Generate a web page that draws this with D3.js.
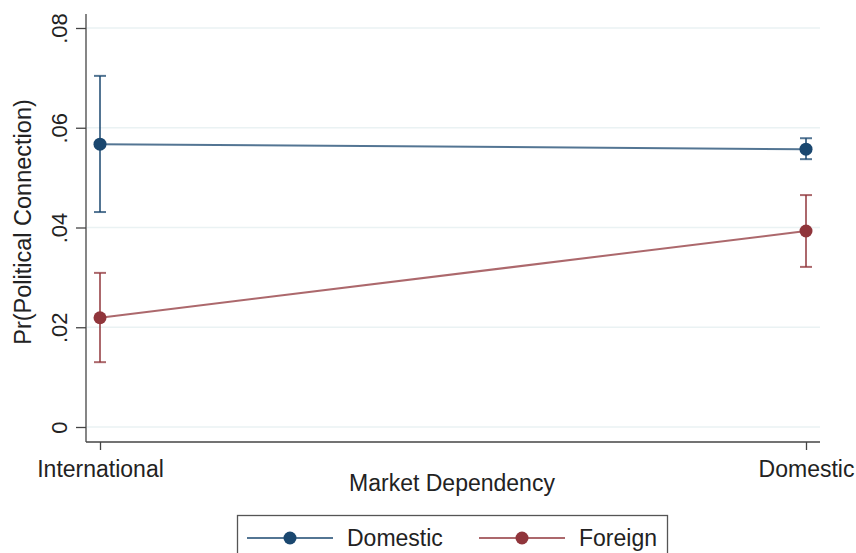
<!DOCTYPE html>
<html>
<head>
<meta charset="utf-8">
<script src="https://cdn.jsdelivr.net/npm/d3@7"></script>
<style>
  body { margin: 0; background: #fff; }
  svg { display: block; font-family: "Liberation Sans", Arial, sans-serif; }
</style>
</head>
<body>
<svg id="chart" width="856" height="553"></svg>
<script>
// Market dependency categories on the x axis
const categories = ["International", "Domestic"];
// Predicted probabilities with 95% confidence bounds, by firm ownership
const seriesNames = ["Domestic", "Foreign"];
const domesticEst = [0.0567, 0.0557];
const domesticLo  = [0.0431, 0.0537];
const domesticHi  = [0.0704, 0.0579];
const foreignEst  = [0.0219, 0.0393];
const foreignLo   = [0.0130, 0.0321];
const foreignHi   = [0.0309, 0.0465];
const yTicks = [0, 0.02, 0.04, 0.06, 0.08];
const yTickLabels = ["0", ".02", ".04", ".06", ".08"];
const colors = ["#1a476f", "#90353b"];

const series = [
  { name: seriesNames[0], est: domesticEst, lo: domesticLo, hi: domesticHi, color: colors[0] },
  { name: seriesNames[1], est: foreignEst, lo: foreignLo, hi: foreignHi, color: colors[1] }
];

const svg = d3.select("#chart");
const plotLeft = 86, plotRight = 820, plotTop = 14, plotBottom = 442;
const fontSize = 23;

const x = d3.scalePoint().domain(categories).range([100, 806]);
const y = d3.scaleLinear().domain([0, 0.08]).range([427, 28]);

// horizontal grid lines
svg.append("g").selectAll("line").data(yTicks).join("line")
  .attr("x1", plotLeft + 1).attr("x2", plotRight)
  .attr("y1", d => y(d)).attr("y2", d => y(d))
  .attr("stroke", "#eaf2f3").attr("stroke-width", 1.5);

// y axis
const yAxis = d3.axisLeft(y).tickValues(yTicks)
  .tickFormat((d, i) => yTickLabels[i]).tickSize(10).tickSizeOuter(0);
const gy = svg.append("g").attr("transform", `translate(${plotLeft},0)`).call(yAxis);
gy.attr("font-size", null).attr("font-family", null);
gy.select(".domain").attr("d", `M0,${plotTop}V${plotBottom}`).attr("stroke", "#444").attr("stroke-width", 1.3);
gy.selectAll(".tick line").attr("stroke", "#444").attr("stroke-width", 1.3);
gy.selectAll(".tick text")
  .attr("font-size", fontSize - 1).attr("fill", "#222")
  .attr("x", 0).attr("dy", 0)
  .attr("text-anchor", "middle")
  .attr("transform", "translate(-19,0) rotate(-90)");

// x axis
const xAxis = d3.axisBottom(x).tickSize(8).tickSizeOuter(0);
const gx = svg.append("g").attr("transform", `translate(0,${plotBottom})`).call(xAxis);
gx.attr("font-size", null).attr("font-family", null);
gx.selectAll(".tick text").attr("font-size", fontSize).attr("fill", "#222").attr("y", 35).attr("dy", 0);
gx.select(".domain").attr("d", `M${plotLeft},0H${plotRight}`).attr("stroke", "#444").attr("stroke-width", 1.3);
gx.selectAll(".tick line").attr("stroke", "#444").attr("stroke-width", 1.3);

// axis titles
svg.append("text")
  .attr("transform", `translate(31,222) rotate(-90)`)
  .attr("text-anchor", "middle").attr("font-size", fontSize + 0.5).attr("fill", "#222")
  .text("Pr(Political Connection)");
svg.append("text")
  .attr("x", 452).attr("y", 491)
  .attr("text-anchor", "middle").attr("font-size", fontSize).attr("fill", "#222")
  .text("Market Dependency");

// series: connecting line, confidence intervals, point markers
const line = d3.line().x((d, i) => x(categories[i])).y(d => y(d));
series.forEach(s => {
  const g = svg.append("g");
  g.append("path").datum(s.est).attr("d", line)
    .attr("fill", "none").attr("stroke", s.color).attr("stroke-opacity", 0.75).attr("stroke-width", 2);
  categories.forEach((c, i) => {
    const cx = x(c);
    g.append("line").attr("x1", cx).attr("x2", cx).attr("y1", y(s.lo[i])).attr("y2", y(s.hi[i]))
      .attr("stroke", s.color).attr("stroke-opacity", 0.75).attr("stroke-width", 2);
    [s.lo[i], s.hi[i]].forEach(v => {
      g.append("line").attr("x1", cx - 6).attr("x2", cx + 6).attr("y1", y(v)).attr("y2", y(v))
        .attr("stroke", s.color).attr("stroke-opacity", 0.75).attr("stroke-width", 2);
    });
    g.append("circle").attr("cx", cx).attr("cy", y(s.est[i])).attr("r", 6.5).attr("fill", s.color);
  });
});

// legend
const lg = svg.append("g");
lg.append("rect").attr("x", 237.5).attr("y", 515.5).attr("width", 430).attr("height", 50)
  .attr("fill", "#fff").attr("stroke", "#555").attr("stroke-width", 1.3);
const legendX = [247, 479];
series.forEach((s, i) => {
  const lx = legendX[i], ly = 538;
  lg.append("line").attr("x1", lx).attr("x2", lx + 86).attr("y1", ly).attr("y2", ly)
    .attr("stroke", s.color).attr("stroke-opacity", 0.75).attr("stroke-width", 2);
  lg.append("circle").attr("cx", lx + 43).attr("cy", ly).attr("r", 6.5).attr("fill", s.color);
  lg.append("text").attr("x", lx + 100).attr("y", ly + 8).attr("font-size", fontSize).attr("fill", "#222").text(s.name);
});
</script>
</body>
</html>
